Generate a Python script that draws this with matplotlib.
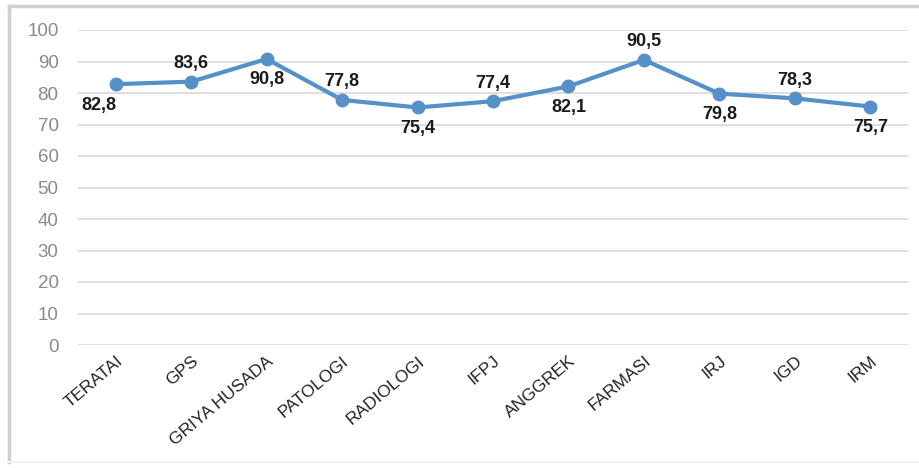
import numpy as np
import matplotlib.pyplot as plt
from matplotlib.lines import Line2D

plt.rcParams['font.family'] = ['Liberation Sans', 'DejaVu Sans']

units = ['TERATAI', 'GPS', 'GRIYA HUSADA', 'PATOLOGI', 'RADIOLOGI', 'IFPJ',
         'ANGGREK', 'FARMASI', 'IRJ', 'IGD', 'IRM']
scores = [82.8, 83.6, 90.8, 77.8, 75.4, 77.4, 82.1, 90.5, 79.8, 78.3, 75.7]
# label placement: above (1) or below (-1) the point
label_side = [-1, 1, -1, 1, -1, 1, -1, 1, -1, 1, -1]

LINE_COLOR = '#5590c8'

fig = plt.figure(figsize=(9.19, 4.68), dpi=100)
ax = fig.add_axes([78 / 919, 1 - 345 / 468, 830 / 919, 315 / 468])

x = np.arange(len(units))
ax.plot(x, scores, color=LINE_COLOR, lw=3, marker='o', ms=9, zorder=3)

for xi, v, side in zip(x, scores, label_side):
    dx = -12 if xi == 0 else 0
    dy = 13 if side > 0 else -15
    ax.annotate(f'{v:.1f}'.replace('.', ','), (xi, v), xytext=(dx, dy),
                textcoords='offset points', ha='center', va='center',
                fontsize=13, fontweight='bold', color='#1a1a1a')

ax.set_xlim(-0.5, len(units) - 0.5)
ax.set_ylim(0, 100)
ax.set_yticks(range(0, 101, 10))
ax.yaxis.grid(True, color='#d9d9d9', lw=1.2)
ax.set_axisbelow(True)
ax.set_xticks(x)
ax.set_xticklabels(units, rotation=40, ha='right', rotation_mode='anchor',
                   fontsize=12.5, color='#222222')
ax.tick_params(axis='y', labelsize=13.5, colors='#8a8a8a', length=0, pad=14)
ax.tick_params(axis='x', length=0, pad=6)
for s in ax.spines.values():
    s.set_visible(False)

# chart frame: strong top and left edges, faint bottom
fig.add_artist(Line2D([9 / 919, 1], [1 - 6 / 468, 1 - 6 / 468],
                      transform=fig.transFigure, color='#d0d0d0', lw=2.5))
fig.add_artist(Line2D([9 / 919, 9 / 919], [1 - 6 / 468, 6 / 468],
                      transform=fig.transFigure, color='#d0d0d0', lw=2.5))
fig.add_artist(Line2D([9 / 919, 1], [6 / 468, 6 / 468],
                      transform=fig.transFigure, color='#f0f0f0', lw=1.5))

fig.savefig('out.png', dpi=100)
